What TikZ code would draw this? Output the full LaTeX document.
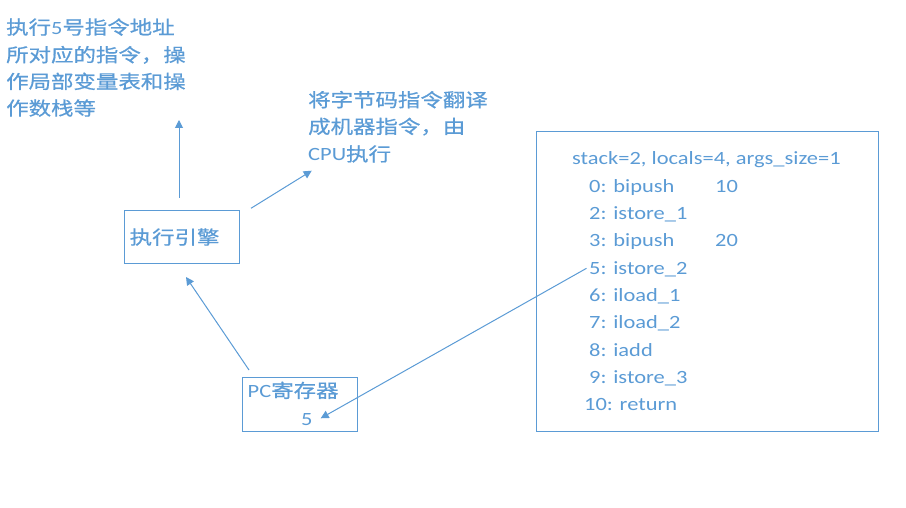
\documentclass[tikz,border=0pt]{standalone}
\usepackage{fontspec}
\setmainfont{Carlito}[FakeStretch=1.2]
\newfontfamily\cjk{Noto Sans CJK SC}[FakeStretch=1.2,FakeBold=0.7]
\usetikzlibrary{arrows.meta}
\definecolor{accent}{HTML}{5B9BD5}
\begin{document}
\begin{tikzpicture}[x=1pt,y=-1pt,
  txt/.style={anchor=base west, inner sep=0pt, text=accent, font=\fontsize{18.7}{27}\selectfont},
  boxshape/.style={draw=accent, line width=1pt, inner sep=0pt, rectangle},
  link/.style={draw=accent, line width=1pt, -{Triangle[length=8pt,width=8pt]}}]
\useasboundingbox (0,0) rectangle (906,508);

% boxes
\node[boxshape, minimum width=115pt, minimum height=53pt] (engine) at (181.8,236.8) {};
\node[boxshape, minimum width=115pt, minimum height=54pt] (pc) at (299.8,404.2) {};
\node[boxshape, minimum width=342pt, minimum height=300pt] (code) at (707.5,281.7) {};

% top-left note
\node[txt] (n1a) at (6,34.2) {\cjk 执行\rmfamily 5\cjk 号指令地址};
\node[txt] (n1b) at (6,61.8) {\cjk 所对应的指令，操};
\node[txt] (n1c) at (6,88.5) {\cjk 作局部变量表和操};
\node[txt] (n1d) at (6,115.2) {\cjk 作数栈等};

% second note
\node[txt] (n2a) at (308,106.8) {\cjk 将字节码指令翻译};
\node[txt] (n2b) at (308,133.5) {\cjk 成机器指令，由};
\node[txt] (n2c) at (308,161) {CPU\cjk 执行};

% box texts
\node[txt] (enginetxt) at (129.5,244.2) {\cjk 执行引擎};
\node[txt] (pctxt) at (247.5,397.5) {PC\cjk 寄存器};
\node[txt] (pcval) at (301,425.5) {5};

% bytecode listing
\node[txt] (c0) at (572,165) {stack=2, locals=4, args\_size=1};
\node[txt] (c1) at (589,192.3) {0: bipush};
\node[txt] (c1v) at (715,192.3) {10};
\node[txt] (c2) at (589,219.6) {2: istore\_1};
\node[txt] (c3) at (589,246.9) {3: bipush};
\node[txt] (c3v) at (715,246.9) {20};
\node[txt] (c4) at (589,274.2) {5: istore\_2};
\node[txt] (c5) at (589,301.5) {6: iload\_1};
\node[txt] (c6) at (589,328.8) {7: iload\_2};
\node[txt] (c7) at (589,356.1) {8: iadd};
\node[txt] (c8) at (589,383.4) {9: istore\_3};
\node[txt] (c9) at (584,410.7) {10: return};

% connectors
\coordinate (upS) at (179,197.7);
\coordinate (upE) at (179,120);
\coordinate (cpuS) at (251,208.3);
\coordinate (cpuE) at (311.7,170.7);
\coordinate (pcS) at (249,370);
\coordinate (pcE) at (186,277);
\coordinate (codeS) at (586.5,268.3);
\coordinate (codeE) at (320.7,418.3);
\draw[link] (upS) -- (upE);
\draw[link] (cpuS) -- (cpuE);
\draw[link] (pcS) -- (pcE);
\draw[link] (codeS) -- (codeE);
\end{tikzpicture}
\end{document}
